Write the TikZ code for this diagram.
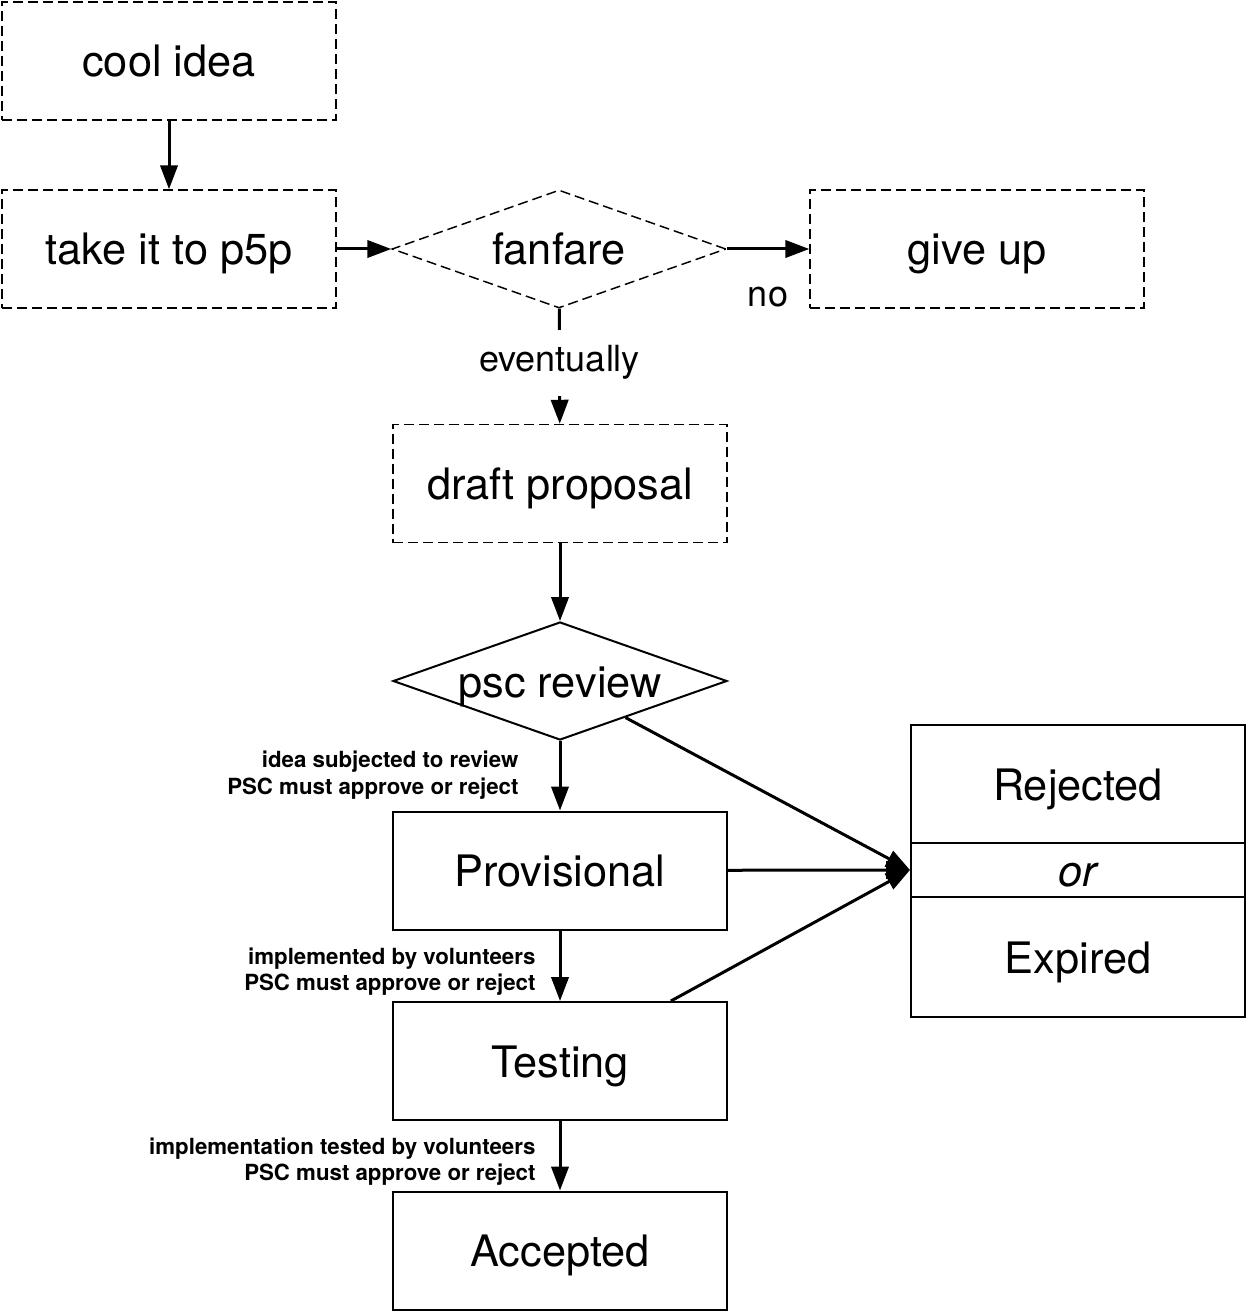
\documentclass[tikz,border=0pt]{standalone}
\usepackage{fontspec}
\setmainfont{TeX Gyre Heros}
\usetikzlibrary{shapes.geometric,arrows.meta,calc}

\tikzset{every picture/.style={line width=0.75pt}}
\tikzset{
  dashbox/.style={draw, dash pattern={on 7.5pt off 3.75pt}, line width=1.1pt, minimum width=250.5pt, minimum height=88.5pt, inner sep=0pt, text height=27pt, text depth=3pt, font=\fontsize{32.5}{39}\selectfont},
  dashdiamond/.style={diamond, draw, dash pattern={on 7.5pt off 3.75pt}, line width=1.1pt, aspect=2.83, minimum width=250.5pt, minimum height=88.5pt, inner sep=0pt, text height=27pt, text depth=3pt, font=\fontsize{32.5}{39}\selectfont},
  solidbox/.style={draw, line width=1.5pt, minimum width=250.5pt, minimum height=88.5pt, inner sep=0pt, text height=27pt, text depth=3pt, font=\fontsize{32.5}{39}\selectfont},
  solidiamond/.style={diamond, draw, line width=1.5pt, aspect=2.83, minimum width=250.5pt, minimum height=88.5pt, inner sep=0pt, text height=27pt, text depth=3pt, font=\fontsize{32.5}{39}\selectfont},
  flow/.style={draw, line width=2.25pt, -{Triangle[length=18pt,width=13pt]}},
  lbl/.style={font=\fontsize{27}{32}\selectfont, inner sep=2pt},
  note/.style={font=\bfseries\fontsize{16.7}{20}\selectfont, align=right, inner sep=0pt}
}

\begin{document}
\begin{tikzpicture}[x=0.75pt,y=0.75pt,yscale=-1,xscale=1]
\useasboundingbox (0,0) rectangle (1246,1312);

%Dashed steps
\node [dashbox] (cool) at (169,61) {cool idea};
\node [dashbox] (take) at (169,249) {take it to p5p};
\node [dashdiamond] (fanfare) at (559,249) {fanfare};
\node [dashbox] (giveup) at (977,249) {give up};
\node [dashbox] (draft) at (560,483.5) {draft proposal};

%Solid steps
\node [solidiamond] (psc) at (560,681) {psc review};
\node [solidbox] (prov) at (560,870.5) {Provisional};
\node [solidbox] (test) at (560,1061) {Testing};
\node [solidbox] (acc) at (560,1250.5) {Accepted};

%Rejected or Expired
\node [solidbox, minimum height=88.5pt] (rej) at (1078,784) {Rejected};
\node [solidbox, minimum height=40.5pt] (or) at (1078,870) {\itshape or};
\node [solidbox, minimum height=90pt] (exp) at (1078,957) {Expired};

%Arrows
\draw [flow] (cool) -- (take);
\draw [flow] (take) -- (fanfare);
\draw [flow] (fanfare) -- (giveup);
\draw [flow] (fanfare) -- (draft) node [lbl, pos=0.47, fill=white, inner ysep=12pt] (ev) {eventually};
\draw [flow] (draft) -- (psc);
\draw [flow] (psc) -- (prov);
\draw [flow] (prov) -- (test);
\draw [flow] (test) -- (acc);
\draw [flow] ($(psc.south)!0.39!(psc.east)$) -- (or.west);
\draw [flow] (prov) -- (or.west);
\draw [flow] ($(test.north)!0.66!(test.north east)$) -- (or.west);

% Text Node
\node [lbl] (no) at (768,297) {no};
% Text Node
\node [note, anchor=east] (n1) at (519,775) {idea subjected to review\\PSC must approve or reject};
% Text Node
\node [note, anchor=east] (n2) at (536,971.5) {implemented by volunteers\\PSC must approve or reject};
% Text Node
\node [note, anchor=east] (n3) at (536,1161.5) {implementation tested by volunteers\\PSC must approve or reject};

\end{tikzpicture}
\end{document}
